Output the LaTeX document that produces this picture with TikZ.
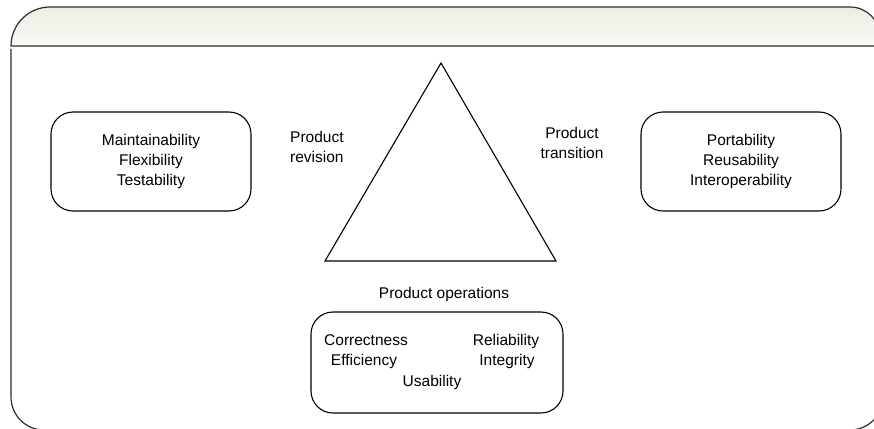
\documentclass[tikz,border=0pt]{standalone}
\usepackage{fontspec}
\setmainfont{Liberation Sans}
\definecolor{framecol}{RGB}{45,45,45}
\definecolor{headtop}{RGB}{236,237,226}
\definecolor{headbot}{RGB}{250,250,247}
\begin{document}
\begin{tikzpicture}[x=1pt,y=-1pt,
  lbl/.style={font=\fontsize{15.5}{20}\selectfont, inner sep=0pt},
  qbox/.style={draw=black, line width=1.1pt, rounded corners=22pt, fill=white},
  framestroke/.style={draw=framecol, line width=1.2pt}]
\useasboundingbox (0,0) rectangle (874,428);
% header bar
\path[framestroke, top color=headtop, bottom color=headbot]
  (11,46) .. controls (11,24.5) and (28.5,7) .. (50,7)
  -- (850,7) .. controls (866.6,7) and (880,20.4) .. (880,37)
  -- (880,46) -- cycle;
% body frame
\draw[framestroke]
  (11,49) -- (11,397) .. controls (11,415.2) and (25.8,430) .. (44,430)
  -- (850,430) .. controls (868.2,430) and (883,415.2) .. (883,397) -- (883,49);
% triangle
\coordinate (apex) at (441,63);
\coordinate (bl) at (325,261);
\coordinate (br) at (556,261);
\draw[line width=1.1pt, line join=miter] (apex) -- (bl) -- (br) -- cycle;
% boxes
\node[qbox, minimum width=200pt, minimum height=99pt] (revbox) at (151,161.5) {};
\node[lbl, align=center] (revtxt) at (revbox.center) {Maintainability\\Flexibility\\Testability};
\node[qbox, minimum width=200pt, minimum height=99pt] (trbox) at (741,161.5) {};
\node[lbl, align=center] (trtxt) at (trbox.center) {Portability\\Reusability\\Interoperability};
\node[qbox, minimum width=252pt, minimum height=101pt] (opbox) at (437,362.5) {};
% labels
\node[lbl, align=left, anchor=west] (revlbl) at (290,146.5) {Product\\revision};
\node[lbl, align=center] (trlbl) at (572,142.5) {Product\\transition};
\node[lbl, anchor=base] (oplbl) at (444,298) {Product operations};
\node[lbl, anchor=base] (corr) at (366,345) {Correctness};
\node[lbl, anchor=base] (eff) at (364,365.5) {Efficiency};
\node[lbl, anchor=base] (usa) at (432,386) {Usability};
\node[lbl, anchor=base] (rel) at (506,345) {Reliability};
\node[lbl, anchor=base] (integ) at (507,365.5) {Integrity};
\end{tikzpicture}
\end{document}
